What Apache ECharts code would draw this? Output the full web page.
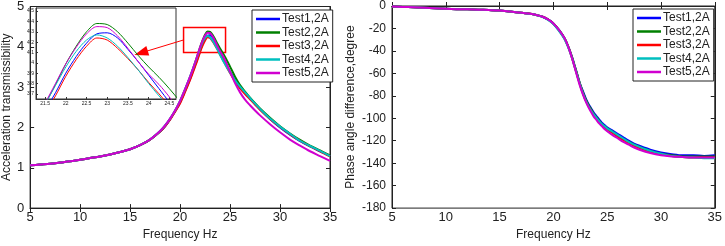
<!DOCTYPE html>
<html><head><meta charset="utf-8">
<script src="https://cdn.jsdelivr.net/npm/echarts@6/dist/echarts.min.js"></script>
<style>html,body{margin:0;padding:0;background:#fff}#c{width:725px;height:246px}</style>
</head><body><div id="c"></div>
<script>
const names = ['Test1,2A','Test2,2A','Test3,2A','Test4,2A','Test5,2A'];
const colors = ['#0000FF','#008000','#FF0000','#00BFBF','#D000D0'];
const freq = [5,6,7,8,9,10,11,12,13,14,15,16,17,18,18.5,19,19.5,20,20.5,21,21.25,21.5,21.75,22,22.25,22.5,22.75,23,23.25,23.5,23.75,24,24.25,24.5,24.75,25,25.5,26,26.5,27,27.5,28,29,30,31,32,33,34,35];
const trans1 = [1.06,1.08,1.10,1.13,1.16,1.20,1.24,1.28,1.33,1.39,1.46,1.56,1.70,1.90,2.03,2.20,2.40,2.62,2.90,3.20,3.37,3.54,3.71,3.90,4.06,4.19,4.28,4.29,4.24,4.13,4.01,3.88,3.75,3.62,3.50,3.38,3.17,3.00,2.86,2.72,2.58,2.45,2.21,2.00,1.82,1.66,1.53,1.41,1.29];
const trans2 = [1.06,1.08,1.10,1.13,1.16,1.20,1.24,1.28,1.33,1.39,1.46,1.56,1.70,1.90,2.04,2.21,2.41,2.65,2.94,3.25,3.42,3.60,3.79,3.99,4.16,4.30,4.38,4.37,4.30,4.19,4.07,3.96,3.86,3.75,3.63,3.51,3.26,3.05,2.89,2.74,2.60,2.47,2.24,2.03,1.85,1.69,1.55,1.43,1.31];
const trans3 = [1.06,1.08,1.10,1.13,1.16,1.20,1.24,1.28,1.33,1.39,1.46,1.56,1.70,1.90,2.03,2.19,2.39,2.60,2.88,3.18,3.34,3.51,3.68,3.87,4.03,4.16,4.24,4.22,4.14,4.04,3.93,3.81,3.70,3.58,3.46,3.35,3.14,2.97,2.83,2.70,2.57,2.44,2.21,2.01,1.83,1.67,1.53,1.41,1.28];
const trans4 = [1.06,1.08,1.10,1.13,1.16,1.20,1.24,1.28,1.33,1.39,1.46,1.56,1.70,1.91,2.05,2.22,2.42,2.66,2.95,3.26,3.43,3.60,3.78,3.96,4.11,4.22,4.27,4.24,4.16,4.05,3.93,3.80,3.68,3.57,3.46,3.36,3.17,3.01,2.87,2.73,2.59,2.46,2.22,2.02,1.84,1.67,1.54,1.42,1.29];
const trans5 = [1.06,1.08,1.10,1.13,1.16,1.20,1.24,1.28,1.33,1.39,1.46,1.56,1.70,1.91,2.05,2.22,2.42,2.66,2.95,3.26,3.43,3.61,3.80,3.99,4.15,4.28,4.35,4.34,4.26,4.14,4.01,3.89,3.79,3.67,3.53,3.38,3.10,2.87,2.69,2.55,2.42,2.30,2.08,1.88,1.70,1.55,1.41,1.29,1.17];
const phase1 = [-0.5,-0.8,-1.2,-1.6,-2.0,-2.4,-2.8,-3.0,-3.3,-3.6,-4.0,-5.0,-6.0,-7.2,-8.2,-9.6,-12.0,-15.5,-21,-28,-33,-39,-46,-54,-62,-70,-76,-82,-87,-91,-95,-98,-101,-104,-106,-108,-111,-114,-117,-120,-122.5,-124.5,-128,-130.5,-132,-133,-133,-133.5,-133];
const phase2 = [-0.5,-0.8,-1.2,-1.6,-2.0,-2.4,-2.8,-3.0,-3.3,-3.6,-4.0,-5.0,-6.0,-7.2,-8.2,-9.6,-12.0,-15.5,-21,-28,-33,-39,-46,-54,-62,-70,-77,-83,-88,-92,-96,-99,-102,-105,-107,-109,-112,-115.5,-118.5,-121,-123.5,-125.5,-129,-131.5,-133,-134,-134,-134,-134];
const phase3 = [-0.5,-0.8,-1.2,-1.6,-2.0,-2.4,-2.8,-3.0,-3.3,-3.6,-4.0,-5.0,-6.0,-7.2,-8.2,-9.6,-12.0,-15.8,-21.5,-28.5,-33.5,-39.5,-47,-55,-63,-71,-78,-84,-89,-93,-97,-100,-103,-106,-108,-110,-113,-116.5,-119.5,-122,-124.5,-126.5,-130,-132,-133.5,-134.5,-135,-135,-135];
const phase4 = [-0.5,-0.8,-1.2,-1.6,-2.0,-2.4,-2.8,-3.0,-3.3,-3.6,-4.0,-5.0,-6.0,-7.2,-8.3,-9.8,-12.3,-16,-22,-29,-34,-40,-47,-55,-63,-71,-78,-84,-89,-93,-96.5,-99.5,-102.5,-105,-107,-109,-112,-115,-118,-121,-123.5,-125.5,-129,-131.5,-133.5,-134.5,-135,-135.5,-135.5];
const phase5 = [-0.5,-0.8,-1.2,-1.6,-2.0,-2.4,-2.8,-3.0,-3.3,-3.6,-4.0,-5.0,-6.0,-7.2,-8.2,-9.6,-12.0,-15.5,-21,-28,-33,-39.5,-47,-55.5,-64,-72,-79,-85,-90,-94.5,-98.5,-101.5,-104.5,-107,-109.5,-111.5,-115,-118,-121,-123.5,-126,-128,-131,-133,-134,-134.5,-135,-135,-135];
const transSeries = [trans1,trans2,trans3,trans4,trans5];
const phaseSeries = [phase1,phase2,phase3,phase4,phase5];
const transTicks = [0,5,1];
const phaseTicks = [-180,0,20];
const freqTicks = [5,35,5];
const insetX = [21.28,24.66];
const insetY = [3.65,4.53];
const zoomBox = [[20.35,3.86],[24.55,4.48]];
const arrowLine = [[20.35,4.17],[16.1,3.85]];

const pairs = (ys) => freq.map((f,i)=>[f,ys[i]]);
const lab = {fontFamily:'Liberation Sans, Arial, sans-serif', color:'#222'};
const axisLine = {show:true, lineStyle:{color:'#222', width:1}};
const tickIn = {show:true, inside:true, length:4, lineStyle:{color:'#222'}};

const grids = [
  {left:23, top:6, width:307, height:208, show:true, borderColor:'#222', borderWidth:1, backgroundColor:'#fff'},
  {left:392, top:6, width:325, height:208, show:true, borderColor:'#222', borderWidth:1, backgroundColor:'#fff'},
  {left:36, top:8, width:140, height:91, show:true, borderColor:'#333', borderWidth:1, backgroundColor:'#fff', z:5}
];
const xAxes = [
  {gridIndex:0, type:'value', min:freqTicks[0], max:freqTicks[1], interval:freqTicks[2], axisLine, axisTick:tickIn, splitLine:{show:false},
   axisLabel:{...lab, fontSize:13, margin:3}, name:'Frequency Hz', nameLocation:'middle', nameGap:18, nameTextStyle:{...lab, fontSize:12}},
  {gridIndex:1, type:'value', min:freqTicks[0], max:freqTicks[1], interval:freqTicks[2], axisLine, axisTick:tickIn, splitLine:{show:false},
   axisLabel:{...lab, fontSize:13, margin:3}, name:'Frequency Hz', nameLocation:'middle', nameGap:18, nameTextStyle:{...lab, fontSize:12}},
  {gridIndex:0, type:'value', position:'top', min:freqTicks[0], max:freqTicks[1], interval:freqTicks[2], axisLine, axisTick:tickIn, axisLabel:{show:false}, splitLine:{show:false}},
  {gridIndex:1, type:'value', position:'top', min:freqTicks[0], max:freqTicks[1], interval:freqTicks[2], axisLine, axisTick:tickIn, axisLabel:{show:false}, splitLine:{show:false}},
  {gridIndex:2, type:'value', min:insetX[0], max:insetX[1], splitNumber:7, axisLine:{show:true,lineStyle:{color:'#333'}}, axisTick:{show:true,inside:true,length:2,lineStyle:{color:'#333'}}, splitLine:{show:false},
   axisLabel:{...lab, fontSize:5, margin:2, showMinLabel:false, showMaxLabel:false}, z:6}
];
const yAxes = [
  {gridIndex:0, type:'value', min:transTicks[0], max:transTicks[1], interval:transTicks[2], axisLine, axisTick:tickIn, splitLine:{show:false},
   axisLabel:{...lab, fontSize:13, margin:6}, name:'Acceleration transmissibility', nameLocation:'middle', nameGap:12, nameTextStyle:{...lab, fontSize:12}},
  {gridIndex:1, type:'value', min:phaseTicks[0], max:phaseTicks[1], interval:phaseTicks[2], axisLine, axisTick:tickIn, splitLine:{show:false},
   axisLabel:{...lab, fontSize:12, margin:6}, name:'Phase angle difference,degree', nameLocation:'middle', nameGap:35, nameTextStyle:{...lab, fontSize:12}},
  {gridIndex:0, type:'value', position:'right', min:transTicks[0], max:transTicks[1], interval:transTicks[2], axisLine, axisTick:tickIn, axisLabel:{show:false}, splitLine:{show:false}},
  {gridIndex:1, type:'value', position:'right', min:phaseTicks[0], max:phaseTicks[1], interval:phaseTicks[2], axisLine, axisTick:tickIn, axisLabel:{show:false}, splitLine:{show:false}},
  {gridIndex:2, type:'value', min:insetY[0], max:insetY[1], splitNumber:9, axisLine:{show:true,lineStyle:{color:'#333'}}, axisTick:{show:true,inside:true,length:2,lineStyle:{color:'#333'}}, splitLine:{show:false},
   axisLabel:{...lab, fontSize:5, margin:2, showMinLabel:false, showMaxLabel:false}, z:6}
];
const series = [];
names.forEach((n,i)=>{
  series.push({name:n, type:'line', xAxisIndex:0, yAxisIndex:0, data:pairs(transSeries[i]), showSymbol:false, smooth:0.3,
    lineStyle:{color:colors[i], width:2}, itemStyle:{color:colors[i]}, z:2+i*0.01});
});
names.forEach((n,i)=>{
  series.push({name:n, type:'line', xAxisIndex:1, yAxisIndex:1, data:pairs(phaseSeries[i]), showSymbol:false, smooth:0.3,
    lineStyle:{color:colors[i], width:2}, itemStyle:{color:colors[i]}, z:2+i*0.01});
});
names.forEach((n,i)=>{
  series.push({name:n, type:'line', xAxisIndex:4, yAxisIndex:4, data:pairs(transSeries[i]), showSymbol:false, smooth:0.3, clip:true,
    lineStyle:{color:colors[i], width:1}, itemStyle:{color:colors[i]}, z:7});
});
series.push({name:'annot', type:'line', xAxisIndex:0, yAxisIndex:0, data:[], z:10, silent:true,
  markArea:{silent:true, itemStyle:{color:'rgba(0,0,0,0)', borderColor:'#FF0000', borderWidth:1.5}, data:[[{coord:zoomBox[0]},{coord:zoomBox[1]}]]},
  markLine:{silent:true, symbol:['none','triangle'], symbolSize:[10,14], label:{show:false}, lineStyle:{color:'#FF0000', width:1, type:'solid'},
    data:[[{coord:arrowLine[0]},{coord:arrowLine[1]}]]}
});
const legendBase = {orient:'vertical', icon:'rect', itemWidth:24, itemHeight:2.5, itemGap:1.5, padding:[3,4,3,4],
  borderColor:'#222', borderWidth:1, backgroundColor:'#fff', textStyle:{...lab, fontSize:12, padding:[0,0,0,-3]}, data:names, selectedMode:false};
const option = {
  animation:false,
  grid: grids, xAxis: xAxes, yAxis: yAxes, series,
  legend:[{...legendBase, left:252, top:10}, {...legendBase, left:633, top:9}]
};
const chart = echarts.init(document.getElementById('c'), null, {renderer:'canvas'});
chart.setOption(option);
</script></body></html>
